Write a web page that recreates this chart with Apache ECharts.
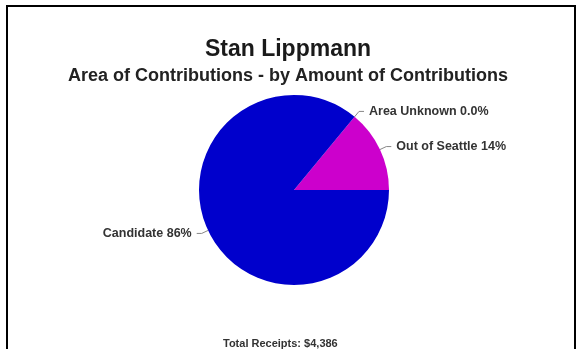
<!DOCTYPE html>
<html>
<head>
<meta charset="utf-8">
<script src="https://cdn.jsdelivr.net/npm/echarts@6/dist/echarts.min.js"></script>
<style>
  html, body { margin: 0; padding: 0; background: #fff; }
  #chart { width: 576px; height: 349px; }
</style>
</head>
<body>
<div id="chart"></div>
<script>
// slices, in drawing order (clockwise from the top edge of the magenta wedge)
var names = ['Area Unknown', 'Out of Seattle', 'Candidate'];
var values = [0, 14, 86];
var pctLabels = ['0.0%', '14%', '86%'];
var colors = ['#0000cc', '#cc00cc', '#0000cc'];
var totalReceipts = '$4,386';

var chart = echarts.init(document.getElementById('chart'));

var option = {
  backgroundColor: '#fff',
  animation: false,
  title: [{
    text: 'Stan Lippmann',
    left: 'center',
    top: 33,
    textStyle: { fontFamily: 'Liberation Sans', fontSize: 23, fontWeight: 'bold', color: '#1a1a1a' }
  }, {
    text: 'Area of Contributions - by Amount of Contributions',
    left: 'center',
    top: 62,
    textStyle: { fontFamily: 'Liberation Sans', fontSize: 18, fontWeight: 'bold', color: '#222' }
  }, {
    text: 'Total Receipts: ' + totalReceipts,
    left: 218,
    top: 333,
    textStyle: { fontFamily: 'Liberation Sans', fontSize: 11, fontWeight: 'bold', color: '#333' }
  }],
  graphic: [{
    type: 'rect',
    shape: { x: 7, y: 6, width: 568, height: 360 },
    style: { fill: 'none', stroke: '#000', lineWidth: 2 },
    silent: true
  }],
  series: [{
    type: 'pie',
    center: [294, 190],
    radius: 95,
    startAngle: 50.4,
    clockwise: true,
    minAngle: 0,
    avoidLabelOverlap: false,
    stillShowZeroSum: true,
    label: {
      show: true,
      fontFamily: 'Liberation Sans',
      fontSize: 12.5,
      fontWeight: 'bold',
      color: '#333',
      formatter: function (p) {
        return p.name + ' ' + pctLabels[p.dataIndex];
      }
    },
    labelLine: {
      show: true,
      length: 7,
      length2: 5,
      lineStyle: { color: '#888', width: 1 }
    },
    itemStyle: { borderWidth: 0 },
    emphasis: { disabled: true },
    data: names.map(function (n, i) {
      return { name: n, value: values[i], itemStyle: { color: colors[i] } };
    })
  }]
};

chart.setOption(option);
</script>
</body>
</html>
